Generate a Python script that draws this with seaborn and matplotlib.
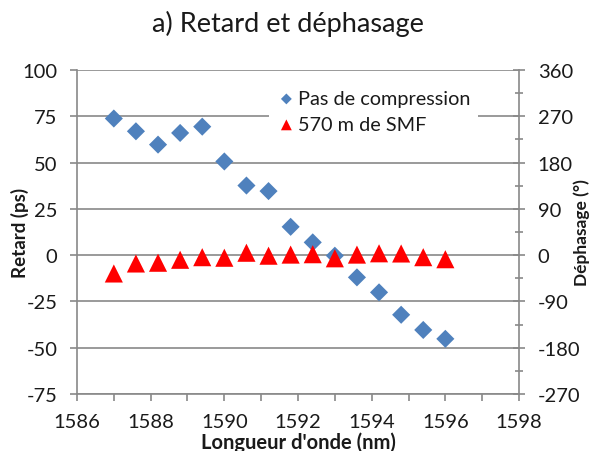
import matplotlib
matplotlib.use("Agg")
import matplotlib.pyplot as plt
from matplotlib.ticker import MultipleLocator
import numpy as np
import pandas as pd
import seaborn as sns

# Wavelengths (nm) of the measurement points
wavelength = [1587.0, 1587.6, 1588.2, 1588.8, 1589.4, 1590.0, 1590.6, 1591.2,
              1591.8, 1592.4, 1593.0, 1593.6, 1594.2, 1594.8, 1595.4, 1596.0]

# Group delay (ps) without compression
delay_no_compression = [73.8, 66.9, 59.7, 66.0, 69.4, 50.6, 37.6, 34.6,
                        15.3, 6.9, -0.3, -12.0, -20.1, -32.2, -40.4, -45.2]

# Group delay (ps) after 570 m of SMF
delay_smf = [-9.9, -4.5, -4.1, -2.5, -1.1, -1.4, 1.3, -0.3,
             0.3, 0.5, -1.7, 0.3, 1.0, 0.9, -1.1, -2.2]

series_names = ["Pas de compression", "570 m de SMF"]
x_ticks = [1586, 1588, 1590, 1592, 1594, 1596, 1598]
left_ticks = [-75, -50, -25, 0, 25, 50, 75, 100]
right_ticks = [-270, -180, -90, 0, 90, 180, 270, 360]

df = pd.DataFrame({
    "wl": wavelength * 2,
    "delay": delay_no_compression + delay_smf,
    "serie": [series_names[0]] * len(wavelength) + [series_names[1]] * len(wavelength),
})

sns.set_style("white")
plt.rcParams["font.family"] = ["Lato", "DejaVu Sans"]
plt.rcParams["axes.unicode_minus"] = False

grey = "#898989"
text_c = "#1a1a1a"
tick_fs = 14.5

fig = plt.figure(figsize=(5.95, 4.52), dpi=100)
ax = fig.add_axes([0.1294, 0.1261, 0.8723 - 0.1294, 0.8429 - 0.1261])

blue = "#4F81BD"
red = "#FF0000"

sns.scatterplot(data=df[df.serie == series_names[0]], x="wl", y="delay",
                marker="D", s=85, color=blue, edgecolor="none", ax=ax,
                label=series_names[0], zorder=3)
sns.scatterplot(data=df[df.serie == series_names[1]], x="wl", y="delay",
                marker="^", s=170, color=red, edgecolor="none", ax=ax,
                label=series_names[1], zorder=3)

ax.set_xlim(1586, 1598)
ax.set_ylim(-75, 100)
ax.set_xticks(x_ticks)
ax.xaxis.set_minor_locator(MultipleLocator(1))
ax.set_yticks(left_ticks)
ax.yaxis.grid(True, color=grey, linewidth=1.2)
ax.set_axisbelow(True)

for side in ["left", "bottom"]:
    ax.spines[side].set_color(grey)
    ax.spines[side].set_linewidth(1.2)
ax.spines["top"].set_visible(False)
ax.spines["right"].set_visible(False)

ax.tick_params(axis="both", which="both", color=grey, width=1.2,
               labelsize=tick_fs, labelcolor=text_c)
ax.tick_params(axis="x", which="both", direction="out", length=5, bottom=True, pad=9)
ax.tick_params(axis="y", which="major", direction="out", length=5, left=True, pad=9)

ax.set_xlabel("Longueur d'onde (nm)", fontsize=14.5, fontweight="bold",
              color=text_c, labelpad=1)
ax.set_ylabel("Retard (ps)", fontsize=13.5, fontweight="bold", color=text_c)
ax.yaxis.set_label_coords(-0.108, 0.5)

ax2 = ax.twinx()
ax2.set_ylim(-270, 360)
ax2.set_yticks(right_ticks)
ax2.yaxis.set_minor_locator(MultipleLocator(45))
for side in ["left", "bottom", "top"]:
    ax2.spines[side].set_visible(False)
ax2.spines["right"].set_color(grey)
ax2.spines["right"].set_linewidth(1.2)
ax2.tick_params(axis="y", which="major", direction="inout", length=9,
                color=grey, width=1.2, labelsize=tick_fs, labelcolor=text_c, pad=9)
ax2.tick_params(axis="y", which="minor", direction="inout", length=6,
                color=grey, width=1.2)
ax2.set_ylabel("Déphasage (°)", fontsize=12.5, fontweight="bold", color=text_c)
ax2.yaxis.set_label_coords(1.124, 0.5)

leg = ax.legend(loc="upper left", bbox_to_anchor=(0.413, 0.99), frameon=True,
                fontsize=14.3, markerscale=0.6, handletextpad=0.1,
                handlelength=1.0, labelspacing=0.45, borderpad=0.35,
                facecolor="white", edgecolor="none", framealpha=1)
for t in leg.get_texts():
    t.set_color(text_c)

fig.suptitle("a) Retard et déphasage", x=0.484, y=0.975, fontsize=19.5, color=text_c)

fig.savefig("out.png", dpi=100)
